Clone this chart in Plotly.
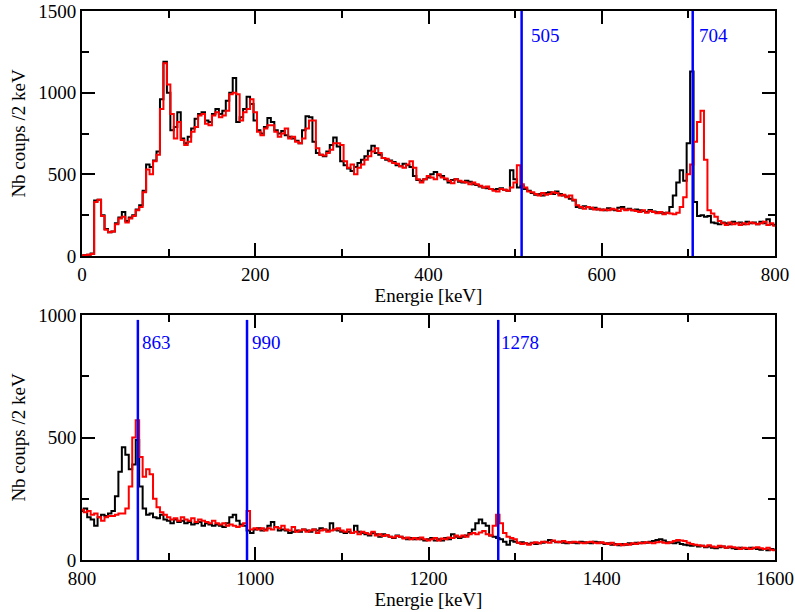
import plotly.graph_objects as go
from plotly.subplots import make_subplots

# ---------------- data (counts per 2 keV, 4 keV sampling) -------------
energy_top = list(range(0, 801, 4))
black_top = [
    3, 5, 8, 15, 340, 345, 250, 165, 145, 150,
    200, 235, 270, 215, 235, 250, 285, 310, 400, 560,
    545, 585, 640, 960, 1190, 1000, 770, 790, 880, 720,
    690, 730, 780, 840, 870, 880, 830, 820, 870, 900,
    870, 890, 950, 1000, 1090, 820, 850, 900, 975, 930,
    830, 770, 750, 790, 845, 820, 770, 750, 765, 740,
    730, 720, 705, 690, 770, 855, 850, 700, 630, 620,
    610, 640, 680, 725, 670, 580, 555, 535, 520, 545,
    570, 590, 610, 645, 675, 630, 620, 600, 590, 585,
    575, 555, 550, 565, 555, 545, 490, 465, 460, 470,
    480, 500, 515, 495, 490, 470, 450, 465, 470, 455,
    450, 460, 455, 440, 435, 425, 420, 415, 410, 405,
    410, 415, 405, 400, 525, 470, 420, 430, 410, 400,
    385, 375, 380, 370, 385, 390, 380, 395, 380, 370,
    365, 350, 340, 300, 295, 305, 300, 290, 295, 285,
    285, 280, 292, 285, 280, 295, 300, 285, 290, 280,
    285, 280, 275, 270, 282, 272, 268, 265, 262, 265,
    300, 370, 450, 525, 460, 690, 1130, 330, 245, 250,
    240, 245, 205, 200, 195, 205, 200, 195, 210, 200,
    205, 195, 210, 200, 205, 195, 210, 200, 225, 195,
    190,
]
red_top = [
    3, 5, 8, 12, 330, 345, 245, 160, 145, 150,
    195, 230, 240, 205, 230, 245, 280, 300, 390, 530,
    500, 580, 620, 900, 1180, 1050, 870, 720, 820, 710,
    680, 700, 760, 790, 860, 870, 810, 800, 860, 880,
    850, 860, 890, 990, 1000, 990, 830, 880, 900, 960,
    880, 760, 740, 780, 800, 800, 760, 730, 750, 780,
    720, 730, 700, 690, 720, 780, 830, 830, 660, 620,
    615, 630, 650, 690, 690, 680, 580, 540, 560, 500,
    540, 560, 590, 610, 640, 660, 630, 600, 595, 580,
    570, 565, 550, 540, 560, 580, 540, 470, 450, 470,
    490, 480, 470, 500, 480, 475, 460, 445, 470, 460,
    455, 450, 440, 450, 440, 430, 420, 425, 410, 400,
    395, 410, 405, 400, 420, 450, 555, 440, 420, 395,
    390, 380, 370, 385, 375, 380, 390, 385, 370, 375,
    360, 370, 345, 310, 300, 290, 300, 295, 285, 290,
    280, 285, 280, 290, 285, 275, 290, 280, 285, 280,
    275, 270, 280, 265, 275, 270, 262, 270, 255, 265,
    260, 255, 265, 300, 360, 500, 560, 700, 820, 890,
    590, 280, 260, 240, 215, 200, 190, 205, 195, 200,
    190, 200, 195, 205, 200, 195, 200, 210, 190, 200,
    185,
]

energy_bot = list(range(800, 1601, 4))
black_bot = [
    200, 210, 175, 165, 140, 175, 185, 180, 190, 200,
    260, 360, 460, 430, 370, 390, 490, 300, 210, 185,
    190, 175, 170, 185, 165, 160, 150, 165, 155, 160,
    150, 155, 145, 150, 155, 140, 150, 145, 140, 145,
    140, 135, 150, 175, 185, 160, 145, 140, 120, 110,
    125, 130, 120, 125, 140, 155, 135, 120, 125, 120,
    110, 115, 120, 115, 125, 120, 115, 125, 120, 130,
    125, 120, 150, 125, 120, 115, 110, 115, 110, 140,
    115, 110, 105, 100, 110, 105, 95, 105, 100, 95,
    90, 100, 95, 90, 85, 90, 85, 90, 85, 80,
    85, 90, 80, 85, 80, 90, 85, 105, 95, 90,
    95, 100, 110, 125, 150, 165, 150, 140, 100, 95,
    90, 85, 75, 62, 80, 75, 70, 72, 68, 65,
    70, 65, 68, 70, 75, 82, 78, 72, 75, 70,
    68, 72, 70, 68, 75, 72, 70, 68, 75, 72,
    70, 65, 68, 62, 65, 60, 65, 62, 68, 65,
    70, 68, 72, 70, 75, 78, 82, 85, 80, 72,
    70, 68, 72, 65, 62, 60, 58, 60, 55, 58,
    52, 55, 50, 48, 52, 55, 50, 52, 48, 45,
    50, 48, 45, 50, 48, 45, 42, 45, 40, 45,
    42,
]
red_bot = [
    205, 195, 200, 185, 190, 175, 160, 175, 180, 180,
    185, 190, 190, 210, 300, 500, 570, 420, 340, 370,
    350, 250, 215, 195, 185, 175, 165, 170, 160, 175,
    165, 160, 170, 155, 165, 160, 155, 150, 160, 150,
    145, 150, 140, 145, 140, 135, 140, 150, 200, 125,
    130, 125, 130, 120, 130, 125, 135, 130, 140, 125,
    120, 135, 115, 120, 125, 115, 120, 125, 110, 120,
    125, 115, 120, 125, 130, 120, 115, 125, 110, 115,
    105, 115, 110, 105, 115, 100, 105, 98, 102, 95,
    92, 98, 95, 88, 92, 85, 90, 85, 92, 85,
    80, 85, 90, 80, 88, 85, 92, 90, 100, 95,
    100, 95, 105, 110, 105, 112, 118, 105, 100, 140,
    185, 150, 110, 95, 90, 85, 70, 65, 68, 62,
    68, 72, 68, 75, 72, 70, 80, 75, 72, 78,
    72, 70, 75, 72, 70, 68, 72, 75, 70, 68,
    72, 68, 65, 70, 62, 65, 60, 65, 62, 68,
    65, 70, 68, 72, 70, 68, 72, 75, 70, 68,
    72, 78, 82, 80, 78, 70, 65, 62, 60, 58,
    55, 60, 55, 52, 58, 55, 50, 55, 52, 50,
    45, 50, 48, 45, 50, 52, 48, 45, 50, 42,
    40,
]

# marker lines (position, label)
lines_top_pos = [507.5, 705]
lines_top_lbl = ["505", "704"]
lines_top_lblx = [516.5, 710]
lines_bot_pos = [864.5, 990.5, 1280.5]
lines_bot_lbl = ["863", "990", "1278"]
lines_bot_lblx = [866.5, 994, 1281.5]

FONT = "Liberation Serif, Times New Roman, DejaVu Serif, serif"
FS = 19

fig = make_subplots(rows=2, cols=1, vertical_spacing=(315 - 256) / 549)

for row, (ex, bl, rd) in enumerate([(energy_top, black_top, red_top),
                                     (energy_bot, black_bot, red_bot)], start=1):
    fig.add_trace(go.Scatter(x=ex, y=bl, mode="lines", line=dict(color="black", width=2, shape="hvh"),
                             showlegend=False, hoverinfo="skip"), row=row, col=1)
    fig.add_trace(go.Scatter(x=ex, y=rd, mode="lines", line=dict(color="#ff0000", width=2, shape="hvh"),
                             showlegend=False, hoverinfo="skip"), row=row, col=1)

for p in lines_top_pos:
    fig.add_trace(go.Scatter(x=[p, p], y=[0, 1500], mode="lines", line=dict(color="#0000ff", width=2.5),
                             showlegend=False, hoverinfo="skip"), row=1, col=1)
for p in lines_bot_pos:
    fig.add_trace(go.Scatter(x=[p, p], y=[0, 980], mode="lines", line=dict(color="#0000ff", width=2.5),
                             showlegend=False, hoverinfo="skip"), row=2, col=1)

for lx, lb in zip(lines_top_lblx, lines_top_lbl):
    fig.add_annotation(x=lx, y=1350, xref="x", yref="y", text=lb, showarrow=False,
                       xanchor="left", yanchor="middle", font=dict(family=FONT, size=FS, color="#0000ff"))
for lx, lb in zip(lines_bot_lblx, lines_bot_lbl):
    fig.add_annotation(x=lx, y=886, xref="x2", yref="y2", text=lb, showarrow=False,
                       xanchor="left", yanchor="middle", font=dict(family=FONT, size=FS, color="#0000ff"))

axis_common = dict(showline=True, linecolor="black", linewidth=2, mirror="allticks",
                   ticks="inside", ticklen=13, tickwidth=1.5, tickcolor="black",
                   showgrid=False, zeroline=False, automargin=False,
                   tickfont=dict(family=FONT, size=FS, color="black"))

fig.update_xaxes(**axis_common, title=dict(text="Energie [keV]", font=dict(family=FONT, size=FS, color="black"), standoff=0),
                 dtick=200, minor=dict(dtick=100, ticks="inside", ticklen=7, tickwidth=1.5, tickcolor="black"))
fig.update_yaxes(**axis_common, title=dict(text="Nb coups /2 keV", font=dict(family=FONT, size=FS, color="black"), standoff=8),
                 dtick=500, minor=dict(dtick=250, ticks="inside", ticklen=7, tickwidth=1.5, tickcolor="black"))
fig.update_xaxes(range=[0, 800], row=1, col=1)
fig.update_xaxes(range=[800, 1600], row=2, col=1)
fig.update_yaxes(range=[0, 1500], row=1, col=1)
fig.update_yaxes(range=[0, 1000], row=2, col=1)

fig.update_layout(width=795, height=612, margin=dict(l=82, r=20, t=11, b=52),
                  paper_bgcolor="white", plot_bgcolor="white", showlegend=False,
                  font=dict(family=FONT, size=FS, color="black"))

fig.write_html("out.html", config={"displayModeBar": False},
               post_script="document.body.style.margin='0';document.body.style.overflow='hidden';")
